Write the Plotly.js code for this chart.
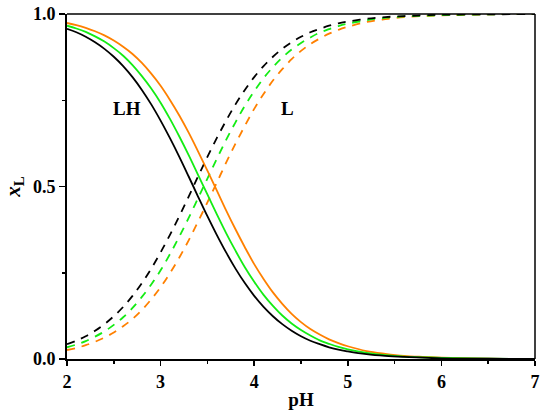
<!DOCTYPE html>
<html>
<head>
<meta charset="utf-8">
<script src="https://cdn.plot.ly/plotly-3.0.1.min.js"></script>
<style>html,body{margin:0;padding:0;background:#fff;}#chart{width:550px;height:418px;}</style>
</head>
<body>
<div id="chart"></div>
<script>
const pH = [2.0,2.1,2.2,2.3,2.4,2.5,2.6,2.7,2.8,2.9,3.0,3.1,3.2,3.3,3.4,3.5,3.6,3.7,3.8,3.9,4.0,4.1,4.2,4.3,4.4,4.5,4.6,4.7,4.8,4.9,5.0,5.2,5.4,5.6,5.8,6.0,6.5,7.0];

const LH_black  = [0.957,0.947,0.934,0.918,0.899,0.876,0.849,0.817,0.780,0.738,0.691,0.640,0.586,0.529,0.471,0.414,0.360,0.309,0.262,0.220,0.183,0.151,0.124,0.101,0.082,0.066,0.053,0.043,0.034,0.027,0.022,0.014,0.009,0.006,0.004,0.002,0.001,0.000];
const LH_green  = [0.966,0.958,0.948,0.935,0.920,0.901,0.879,0.852,0.820,0.784,0.743,0.696,0.645,0.591,0.534,0.477,0.420,0.365,0.314,0.266,0.224,0.186,0.154,0.126,0.103,0.084,0.068,0.054,0.044,0.035,0.028,0.018,0.011,0.007,0.005,0.003,0.001,0.000];
const LH_orange = [0.974,0.968,0.960,0.950,0.938,0.923,0.905,0.884,0.858,0.827,0.792,0.751,0.706,0.656,0.602,0.546,0.489,0.431,0.376,0.324,0.275,0.232,0.193,0.160,0.131,0.107,0.087,0.071,0.057,0.046,0.037,0.023,0.015,0.009,0.006,0.004,0.001,0.000];

const L_black  = [0.043,0.053,0.066,0.082,0.101,0.124,0.151,0.183,0.220,0.262,0.309,0.360,0.414,0.471,0.529,0.586,0.640,0.691,0.738,0.780,0.817,0.849,0.876,0.899,0.918,0.934,0.947,0.957,0.966,0.973,0.978,0.986,0.991,0.994,0.996,0.998,0.999,1.000];
const L_green  = [0.034,0.042,0.052,0.065,0.080,0.099,0.121,0.148,0.180,0.216,0.257,0.304,0.355,0.409,0.466,0.523,0.580,0.635,0.686,0.734,0.776,0.814,0.846,0.874,0.897,0.916,0.932,0.946,0.956,0.965,0.972,0.982,0.989,0.993,0.995,0.997,0.999,1.000];
const L_orange = [0.026,0.032,0.040,0.050,0.062,0.077,0.095,0.116,0.142,0.173,0.208,0.249,0.294,0.344,0.398,0.454,0.511,0.569,0.624,0.676,0.725,0.768,0.807,0.840,0.869,0.893,0.913,0.929,0.943,0.954,0.963,0.977,0.985,0.991,0.994,0.996,0.999,1.000];

const xTickVals = [2,3,4,5,6,7];
const xTickText = ["2","3","4","5","6","7"];
const yTickVals = [0,0.5,1];
const yTickText = ["0.0","0.5","1.0"];

const BLACK = "#000000", GREEN = "#14ec14", ORANGE = "#ff8000";
const serif = "Liberation Serif";

function tr(y, color, dashed) {
  return {x: pH, y: y, type: "scatter", mode: "lines",
    line: {color: color, width: 1.8, shape: "spline", dash: dashed ? "8px,7px" : "solid"},
    hoverinfo: "skip", showlegend: false};
}

const data = [
  tr(L_orange, ORANGE, true), tr(L_green, GREEN, true), tr(L_black, BLACK, true),
  tr(LH_orange, ORANGE, false), tr(LH_green, GREEN, false), tr(LH_black, BLACK, false)
];

const bold = a => a.map(s => "<b>" + s + "</b>");

const layout = {
  width: 550, height: 418,
  margin: {l: 67, r: 15, t: 14, b: 59},
  paper_bgcolor: "#fff", plot_bgcolor: "#fff",
  showlegend: false,
  xaxis: {
    range: [2, 7], showgrid: false, zeroline: false,
    showline: true, linecolor: "#000", linewidth: 2,
    ticks: "outside", ticklen: 5, tickwidth: 1.5, tickcolor: "#000",
    tickvals: xTickVals, ticktext: bold(xTickText),
    minor: {dtick: 0.5, ticks: "outside", ticklen: 3, tickwidth: 1.5, tickcolor: "#000"},
    tickfont: {family: serif, size: 18, color: "#000"},
    title: {text: "<b>pH</b>", font: {family: serif, size: 19, color: "#000"}, standoff: 2}
  },
  yaxis: {
    range: [0, 1], showgrid: false, zeroline: false,
    showline: true, linecolor: "#000", linewidth: 2,
    ticks: "outside", ticklen: 6, tickwidth: 1.5, tickcolor: "#000",
    tickvals: yTickVals, ticktext: bold(yTickText),
    minor: {dtick: 0.25, ticks: "outside", ticklen: 3, tickwidth: 1.5, tickcolor: "#000"},
    tickfont: {family: serif, size: 18, color: "#000"},
    title: {text: "<b><i>x</i></b><sub><b>L</b></sub>", font: {family: serif, size: 21, color: "#000"}, standoff: 7}
  },
  shapes: [
    {type: "line", xref: "paper", yref: "paper", x0: 0, x1: 1, y0: 1, y1: 1, line: {color: "#000", width: 1.5}},
    {type: "line", xref: "paper", yref: "paper", x0: 1, x1: 1, y0: 0, y1: 1, line: {color: "#000", width: 1.5}}
  ],
  annotations: [
    {x: 2.64, y: 0.725, xref: "x", yref: "y", text: "<b>LH</b>", showarrow: false,
     font: {family: serif, size: 19, color: "#000"}},
    {x: 4.36, y: 0.727, xref: "x", yref: "y", text: "<b>L</b>", showarrow: false,
     font: {family: serif, size: 19, color: "#000"}}
  ]
};

Plotly.newPlot("chart", data, layout, {staticPlot: true, displayModeBar: false});
</script>
</body>
</html>
